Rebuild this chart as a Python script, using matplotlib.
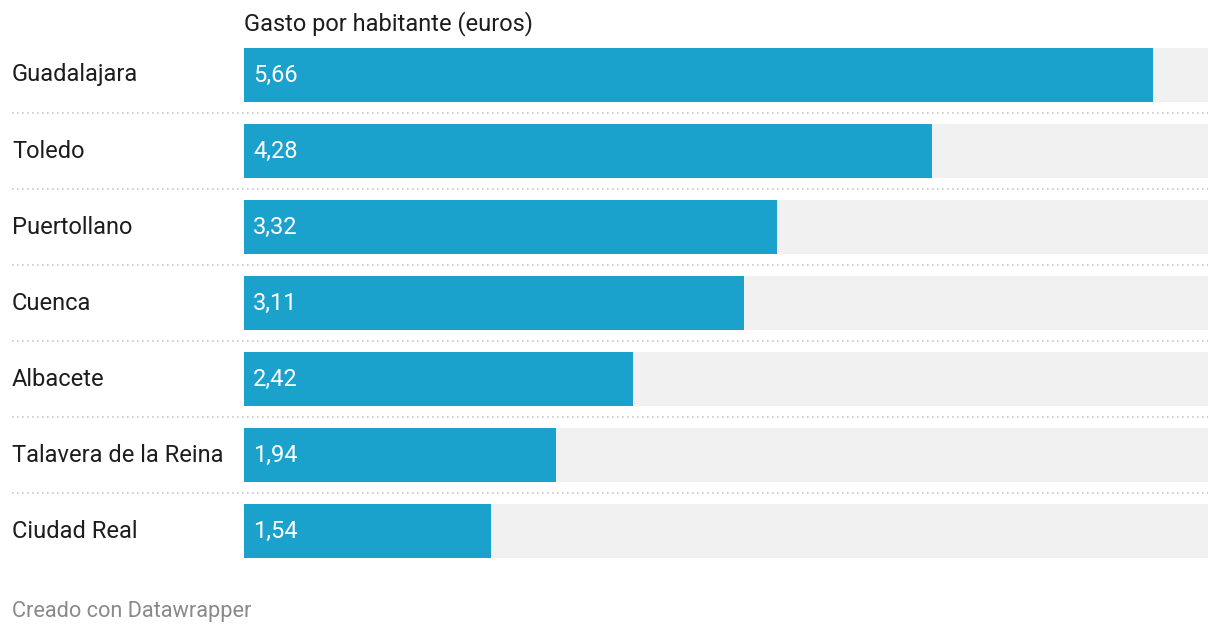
import matplotlib
matplotlib.use("Agg")
import matplotlib.pyplot as plt
from matplotlib.transforms import blended_transform_factory

plt.rcParams['font.family'] = ['Roboto', 'DejaVu Sans']

# datos
ciudades = ["Guadalajara", "Toledo", "Puertollano", "Cuenca", "Albacete",
            "Talavera de la Reina", "Ciudad Real"]
gasto = [5.66, 4.28, 3.32, 3.11, 2.42, 1.94, 1.54]
maximo = 6.0

W, H = 1220, 634
fig = plt.figure(figsize=(W / 100, H / 100), dpi=100)

# eje en pixeles: barras de x=244 a x=1208, filas de 76 px
left, right = 244, 1208
top, bottom = 37, 569
ax = fig.add_axes([left / W, (H - bottom) / H, (right - left) / W, (bottom - top) / H])
ax.set_xlim(0, maximo)
ax.set_ylim(len(ciudades) - 0.5, -0.5)
ax.axis("off")

y = list(range(len(ciudades)))
alto = 54 / 76
ax.barh(y, [maximo] * len(y), height=alto, color="#f1f1f1", left=0)
ax.barh(y, gasto, height=alto, color="#1aa1cc")

trans = blended_transform_factory(ax.transAxes, ax.transData)
x_lab = (12 - left) / (right - left)
for i, (c, v) in enumerate(zip(ciudades, gasto)):
    ax.text(x_lab, i, c, transform=trans, ha="left", va="center",
            fontsize=17, color="#1d1d1d", clip_on=False)
    ax.text(9 / (right - left), i, f"{v:.2f}".replace(".", ","), transform=trans,
            ha="left", va="center", fontsize=17, color="white")
    if i < len(ciudades) - 1:
        ax.plot([x_lab, 1.0], [i + 0.5, i + 0.5], transform=trans, color="#c8c8c8",
                lw=1.2, ls=(0, (1, 2)), clip_on=False)

fig.text(left / W, 1 - 24 / H, "Gasto por habitante (euros)", ha="left", va="center",
         fontsize=17, color="#1d1d1d")
fig.text(12 / W, 1 - 611 / H, "Creado con Datawrapper", ha="left", va="center",
         fontsize=15.7, color="#8a8a8a")

fig.savefig("out.png", dpi=100)
